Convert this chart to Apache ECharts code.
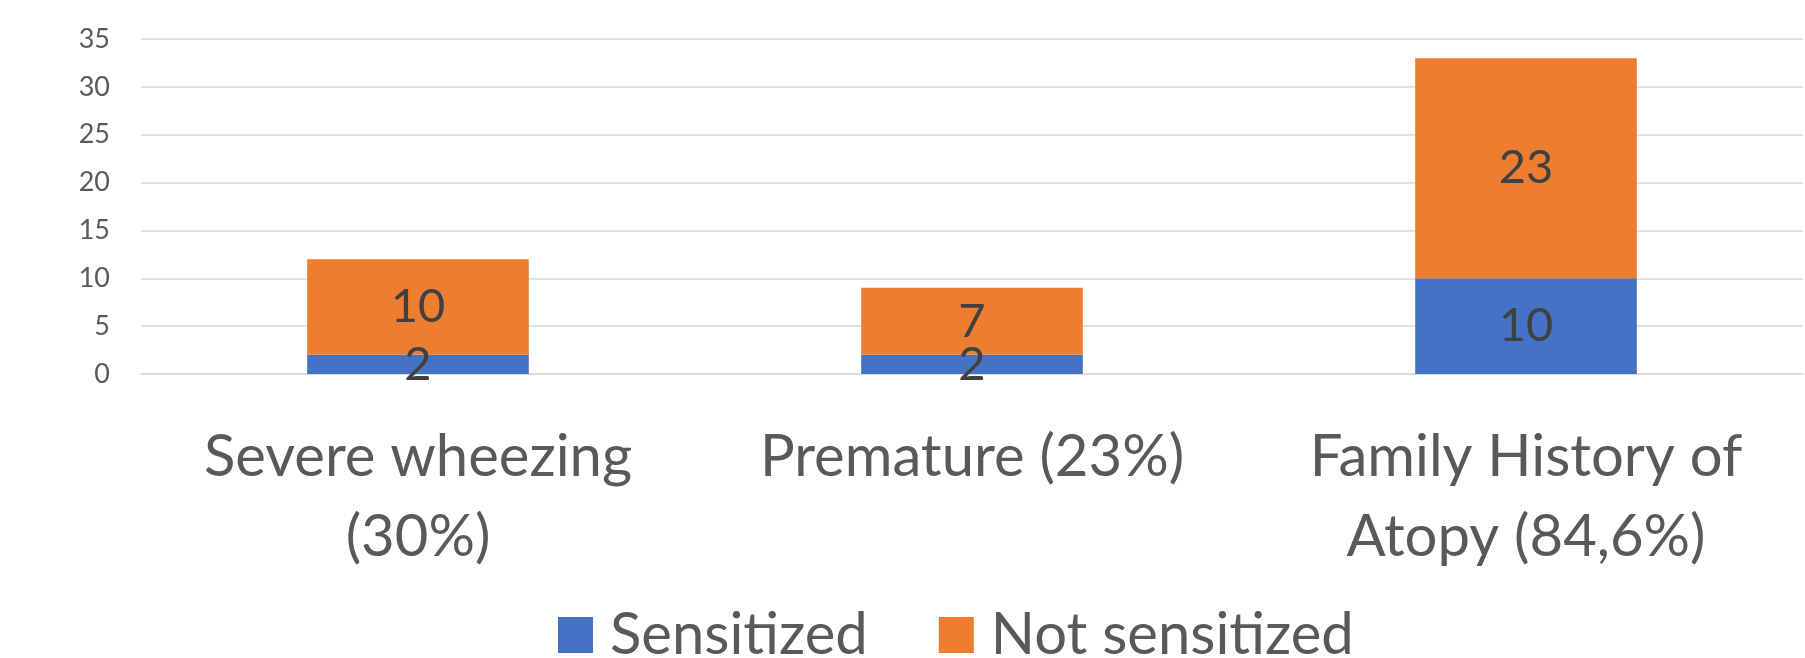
<!DOCTYPE html>
<html>
<head>
<meta charset="utf-8">
<script src="https://cdn.jsdelivr.net/npm/echarts@6/dist/echarts.min.js"></script>
<style>
html,body{margin:0;padding:0;background:#fff;}
#chart{width:1805px;height:658px;}
</style>
</head>
<body>
<div id="chart"></div>
<script>
const categories = ['Severe wheezing\n(30%)', 'Premature (23%)', 'Family History of\nAtopy (84,6%)'];
const sensitized = [2, 2, 10];
const notSensitized = [10, 7, 23];
const yTicks = [0, 5, 10, 15, 20, 25, 30, 35];

const FONT = 'Lato, "Open Sans", sans-serif';
const chart = echarts.init(document.getElementById('chart'), null, {renderer: 'canvas'});
const labelStyle = {
  show: true,
  position: 'inside',
  color: '#404040',
  fontFamily: FONT,
  fontSize: 47
};
chart.setOption({
  animation: false,
  backgroundColor: '#ffffff',
  color: ['#4472C4', '#ED7D31'],
  grid: {left: 141, right: 2, top: 39, bottom: 284, containLabel: false},
  legend: {
    left: 553,
    top: 601,
    itemWidth: 35,
    itemHeight: 36,
    itemGap: 71,
    icon: 'rect',
    textStyle: {color: '#595959', fontFamily: FONT, fontSize: 58, padding: [0, 0, 0, 12]},
    data: ['Sensitized', 'Not sensitized']
  },
  xAxis: {
    type: 'category',
    data: categories,
    axisLine: {show: true, lineStyle: {color: '#d9d9d9', width: 1.5}},
    axisTick: {show: false},
    axisLabel: {
      color: '#595959',
      fontFamily: FONT,
      fontSize: 58,
      lineHeight: 80,
      margin: 43,
      interval: 0
    }
  },
  yAxis: {
    type: 'value',
    min: yTicks[0],
    max: yTicks[yTicks.length - 1],
    interval: yTicks[1] - yTicks[0],
    axisLine: {show: false},
    axisTick: {show: false},
    splitLine: {lineStyle: {color: '#d9d9d9', width: 1.5}},
    axisLabel: {color: '#595959', fontFamily: FONT, fontSize: 27, margin: 31}
  },
  series: [
    {
      name: 'Sensitized',
      type: 'bar',
      stack: 'total',
      data: sensitized,
      barWidth: '40%',
      label: labelStyle
    },
    {
      name: 'Not sensitized',
      type: 'bar',
      stack: 'total',
      data: notSensitized,
      barWidth: '40%',
      label: labelStyle
    }
  ]
});
</script>
</body>
</html>
